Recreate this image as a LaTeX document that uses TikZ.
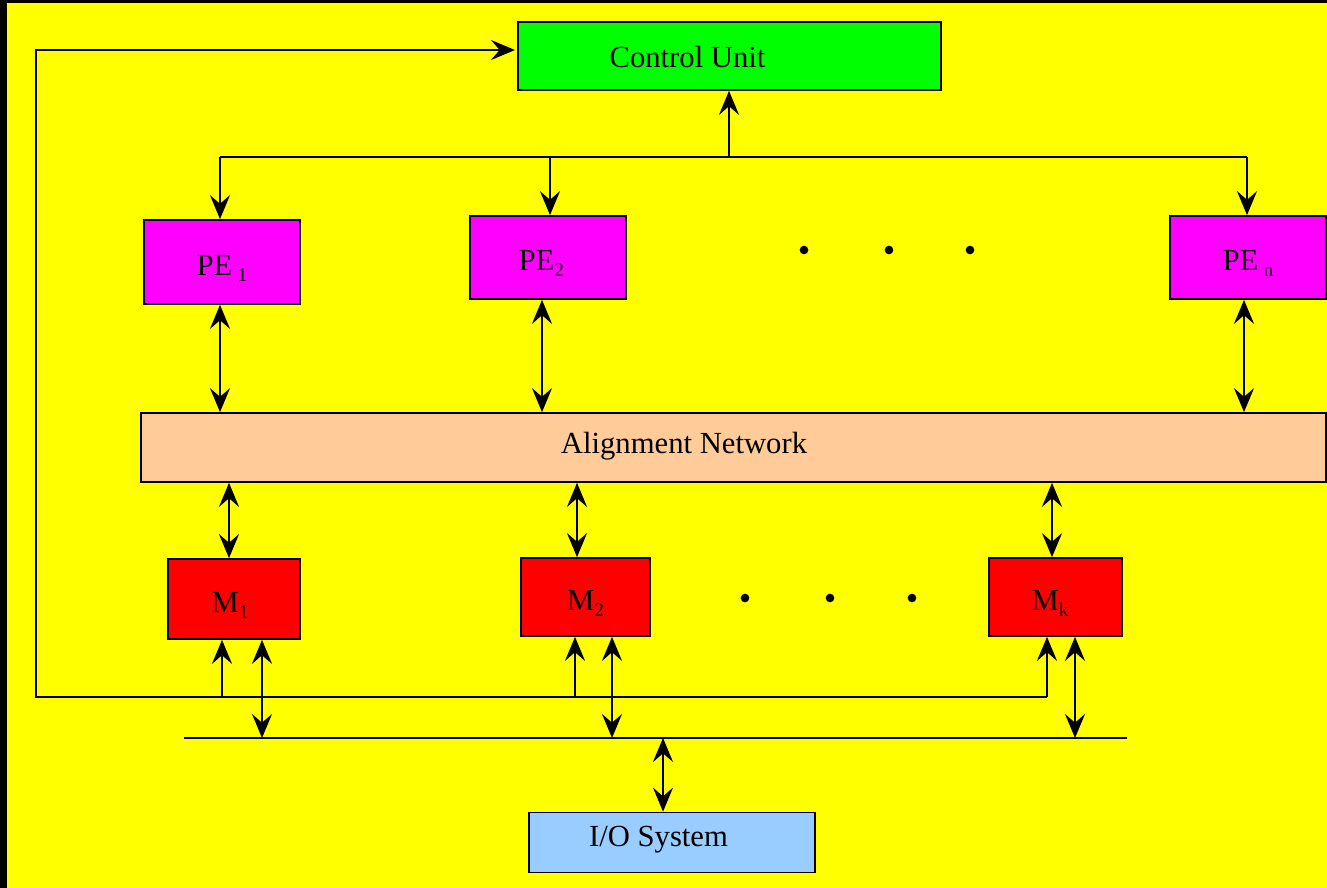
\documentclass[tikz,border=0pt]{standalone}
\usepackage{fontspec}
\setmainfont{Liberation Serif}
\usetikzlibrary{arrows.meta}
\definecolor{bgyellow}{HTML}{FFFF00}
\definecolor{cugreen}{HTML}{00FF00}
\definecolor{pemag}{HTML}{FF00FF}
\definecolor{alpeach}{HTML}{FFCC99}
\definecolor{mred}{HTML}{FF0000}
\definecolor{ioblue}{HTML}{99CCFF}
\newcommand{\sbs}[1]{\raisebox{-4.5pt}{\fontsize{14.5}{16}\selectfont #1}}
\newcommand{\lowtxt}[1]{\raisebox{-10pt}[0pt][0pt]{#1}}
\tikzset{
  >={Stealth[length=18pt,width=15pt,inset=6.5pt]},
  blk/.style={draw=black, line width=1.3pt, inner sep=0pt, font=\fontsize{23}{27}\selectfont},
  lbl/.style={inner sep=0pt, font=\fontsize{23}{27}\selectfont},
  wire/.style={line width=1.6pt, draw=black},
  dotmark/.style={circle, fill=black, inner sep=0pt, minimum size=6.5pt},
}
\begin{document}
\begin{tikzpicture}[x=0.75pt,y=-0.75pt]
\useasboundingbox (0,0) rectangle (1327,888);
\fill[bgyellow] (0,0) rectangle (1327,888);
\fill[black] (0,0) rectangle (7,888);
\fill[black] (0,0) rectangle (1327,2.6);

% blocks
\node[blk, fill=cugreen, minimum width=317.25pt, minimum height=51pt] (cu) at (729.5,56) {};
\node[lbl] (cutext) at (687.5,57) {Control Unit};
\node[blk, fill=pemag, minimum width=117pt, minimum height=63pt] (pe1) at (222,262) {\lowtxt{PE\hspace{4pt}\sbs{1}}};
\node[blk, fill=pemag, minimum width=117pt, minimum height=62.25pt] (pe2) at (548,257.5) {\hspace*{-10pt}\lowtxt{PE\sbs{2}}};
\node[blk, fill=pemag, minimum width=117pt, minimum height=62.25pt] (pen) at (1248,257.5) {\lowtxt{PE\hspace{4pt}\sbs{n}}};
\node[blk, fill=alpeach, minimum width=888.75pt, minimum height=51.75pt] (al) at (733.5,447.5) {};
\node[lbl] (altext) at (684,446) {Alignment Network};
\node[blk, fill=mred, minimum width=99pt, minimum height=60pt] (m1) at (234,599) {\hspace*{-6pt}\lowtxt{M\sbs{1}}};
\node[blk, fill=mred, minimum width=96.75pt, minimum height=58.5pt] (m2) at (585.5,597) {\lowtxt{M\sbs{2}}};
\node[blk, fill=mred, minimum width=99.75pt, minimum height=58.5pt] (mk) at (1055.5,597) {\hspace*{-8pt}\lowtxt{M\sbs{k}}};
\node[blk, fill=ioblue, minimum width=214.5pt, minimum height=45pt] (io) at (672,842.5) {};
\node[lbl] (iotext) at (658.5,840) {I/O System};

% dots
\node[dotmark] (d1) at (804,250) {};
\node[dotmark] (d2) at (889,250) {};
\node[dotmark] (d3) at (970,250) {};
\node[dotmark] (d4) at (745,598) {};
\node[dotmark] (d5) at (830,598) {};
\node[dotmark] (d6) at (912,598) {};

% top bus
\coordinate (tb1) at (220,157);
\coordinate (tb2) at (550,157);
\coordinate (tbc) at (729,157);
\coordinate (tbn) at (1247,157);
\draw[wire] (tb1) -- (tbn);
\draw[wire,->] (tb1) -- (tb1 |- pe1.north);
\draw[wire,->] (tb2) -- (tb2 |- pe2.north);
\draw[wire,->] (tbn) -- (tbn |- pen.north);
\draw[wire,->] (tbc) -- (tbc |- cu.south);

% PE <-> alignment
\coordinate (pa1) at (220,380);
\coordinate (pa2) at (542,380);
\coordinate (pan) at (1244,380);
\draw[wire,<->] (pa1 |- pe1.south) -- (pa1 |- al.north);
\draw[wire,<->] (pa2 |- pe2.south) -- (pa2 |- al.north);
\draw[wire,<->] (pan |- pen.south) -- (pan |- al.north);

% alignment <-> M
\coordinate (am1) at (229,520);
\coordinate (am2) at (577,520);
\coordinate (amk) at (1052,520);
\draw[wire,<->] (am1 |- al.south) -- (am1 |- m1.north);
\draw[wire,<->] (am2 |- al.south) -- (am2 |- m2.north);
\draw[wire,<->] (amk |- al.south) -- (amk |- mk.north);

% feedback line to control unit
\coordinate (fbA) at (36,697);
\coordinate (fbB) at (36,50);
\coordinate (cuin) at (515,50);
\coordinate (f1) at (222,697);
\coordinate (f2) at (575,697);
\coordinate (fk) at (1047,697);
\draw[wire,->] (fk) -- (fbA) -- (fbB) -- (cuin);
\draw[wire,->] (f1) -- (f1 |- m1.south);
\draw[wire,->] (f2) -- (f2 |- m2.south);
\draw[wire,->] (fk) -- (fk |- mk.south);

% I/O bus
\coordinate (ioL) at (184,738);
\coordinate (ioR) at (1127,738);
\coordinate (b1) at (262,738);
\coordinate (b2) at (612,738);
\coordinate (bk) at (1075,738);
\coordinate (bio) at (663,738);
\draw[wire] (ioL) -- (ioR);
\draw[wire,<->] (b1 |- m1.south) -- (b1);
\draw[wire,<->] (b2 |- m2.south) -- (b2);
\draw[wire,<->] (bk |- mk.south) -- (bk);
\draw[wire,<->] (bio) -- (bio |- io.north);
\end{tikzpicture}
\end{document}
